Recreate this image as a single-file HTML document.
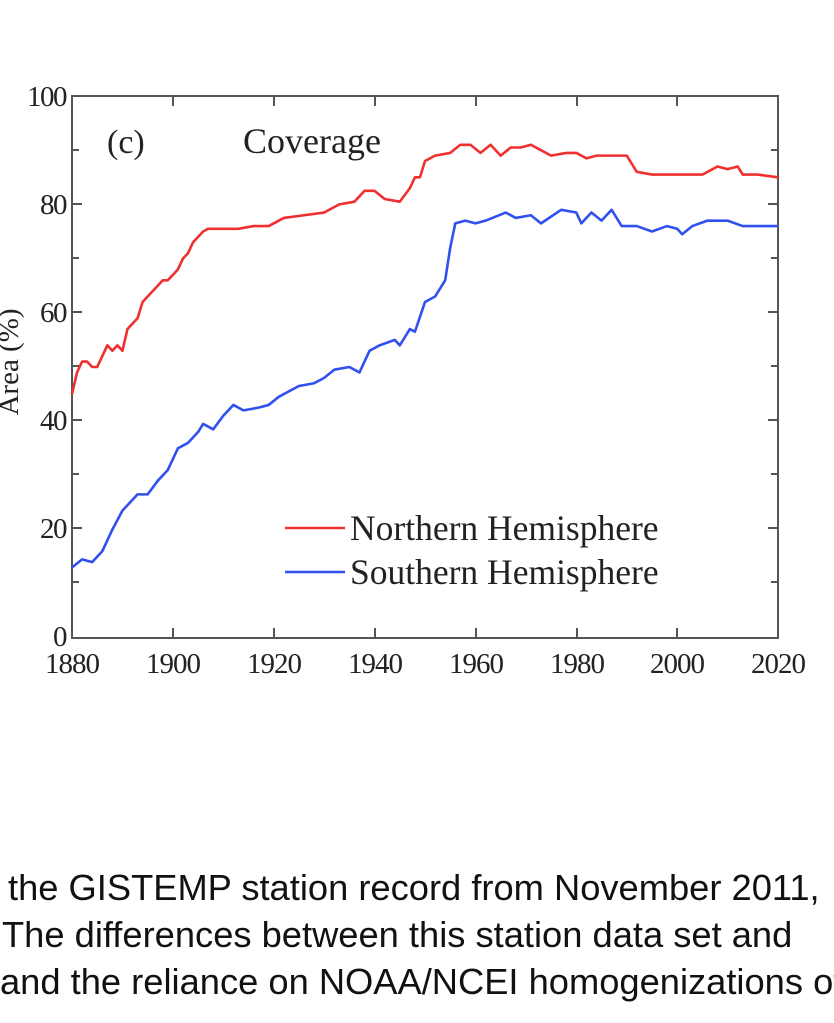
<!DOCTYPE html>
<html><head><meta charset="utf-8"><style>
body{margin:0;background:#fff;width:834px;height:1023px;overflow:hidden;position:relative}
.t{position:absolute;font-family:"Liberation Sans",Arial,sans-serif;font-size:36.3px;line-height:40px;color:#111;white-space:nowrap}
</style></head><body>
<svg width="834" height="760" style="position:absolute;left:0;top:0" font-family="Liberation Serif,serif" fill="#222">
<g stroke="#555" stroke-width="2" fill="none">
<rect x="72" y="96" width="706" height="542"/>
<path d="M72,204h10M72,312h10M72,420h10M72,528h10M72,150h7M72,258h7M72,366h7M72,474h7M72,582h7
M778,204h-10M778,312h-10M778,420h-10M778,528h-10M778,150h-7M778,258h-7M778,366h-7M778,474h-7M778,582h-7
M173,638v-10M274,638v-10M375,638v-10M476,638v-10M577,638v-10M677,638v-10
M173,96v10M274,96v10M375,96v10M476,96v10M577,96v10M677,96v10"/>
</g>
<g font-size="29" text-anchor="end" letter-spacing="-1.5">
<text x="66" y="106">100</text><text x="66" y="214">80</text><text x="66" y="322">60</text>
<text x="66" y="430">40</text><text x="66" y="538">20</text><text x="66" y="646">0</text>
</g>
<g font-size="29" text-anchor="middle" letter-spacing="-1">
<text x="72" y="673">1880</text><text x="173" y="673">1900</text><text x="274" y="673">1920</text>
<text x="375" y="673">1940</text><text x="476" y="673">1960</text><text x="577" y="673">1980</text>
<text x="677" y="673">2000</text><text x="778" y="673">2020</text>
</g>
<text transform="translate(18,362) rotate(-90)" font-size="29" text-anchor="middle">Area (%)</text>
<text x="107" y="153" font-size="34">(c)</text>
<text x="243" y="153" font-size="36">Coverage</text>
<g transform="translate(72,638) scale(5.043,-5.42)" fill="none" stroke-width="2.6" stroke-linejoin="round">
<polyline vector-effect="non-scaling-stroke" stroke="#f03030" points="0,45 1,49 2,51 3,51 4,50 5,50 6,52 7,54 8,53 9,54 10,53 11,57 12,58 13,59 14,62 15,63 16,64 17,65 18,66 19,66 20,67 21,68 22,70 23,71 24,73 25,74 26,75 27,75.5 30,75.5 33,75.5 36,76 39,76 42,77.5 46,78 50,78.5 53,80 56,80.5 58,82.5 60,82.5 62,81 65,80.5 67,83 68,85 69,85 70,88 72,89 75,89.5 77,91 79,91 81,89.5 83,91 85,89 87,90.5 89,90.5 91,91 93,90 95,89 98,89.5 100,89.5 102,88.5 104,89 110,89 112,86 115,85.5 120,85.5 125,85.5 128,87 130,86.5 132,87 133,85.5 136,85.5 140,85"/>
<polyline vector-effect="non-scaling-stroke" stroke="#3050f0" points="0,13 2,14.5 4,14 6,16 8,20 10,23.5 13,26.5 15,26.5 17,29 19,31 21,35 23,36 25,38 26,39.5 28,38.5 30,41 32,43 34,42 37,42.5 39,43 41,44.5 43,45.5 45,46.5 48,47 50,48 52,49.5 55,50 57,49 59,53 61,54 64,55 65,54 67,57 68,56.5 70,62 72,63 74,66 75,72 76,76.5 78,77 80,76.5 82,77 86,78.5 88,77.5 91,78 93,76.5 97,79 100,78.5 101,76.5 103,78.5 105,77 107,79 109,76 112,76 115,75 118,76 120,75.5 121,74.5 123,76 126,77 130,77 133,76 140,76"/>
</g>
<line x1="285" y1="528" x2="345" y2="528" stroke="#f03030" stroke-width="2.6"/>
<line x1="285" y1="572" x2="345" y2="572" stroke="#3050f0" stroke-width="2.6"/>
<text x="350" y="540" font-size="35.5">Northern Hemisphere</text>
<text x="350" y="584" font-size="35.5">Southern Hemisphere</text>
</svg>
<div class="t" style="top:868px;left:8px">the GISTEMP station record from November 2011,</div>
<div class="t" style="top:915px;left:2px">The differences between this station data set and</div>
<div class="t" style="top:962px;left:0px">and the reliance on NOAA/NCEI homogenizations of</div>
</body></html>
